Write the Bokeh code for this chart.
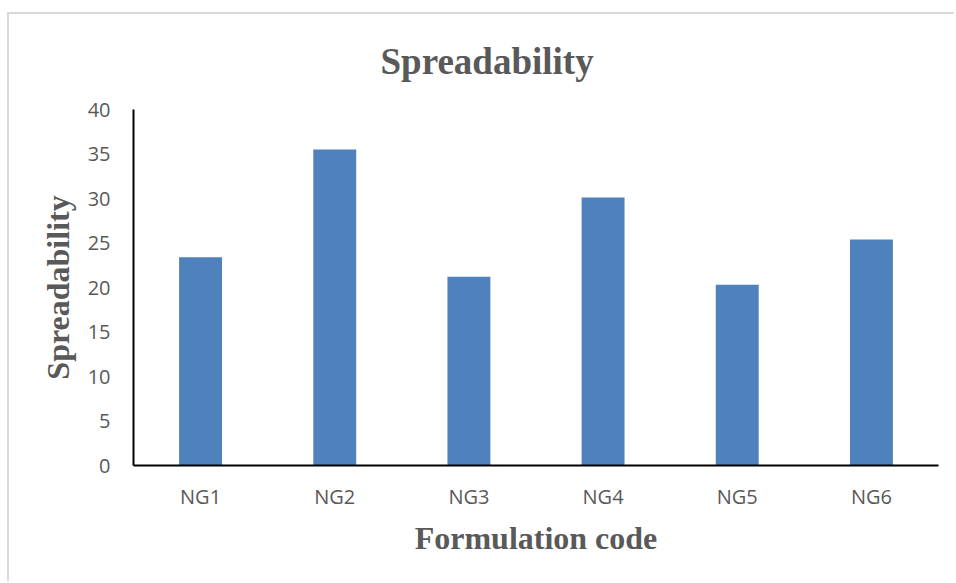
from bokeh.plotting import figure
from bokeh.models import Range1d, FactorRange, FixedTicker
from bokeh.embed import file_html
from bokeh.resources import INLINE

categories = ["NG1", "NG2", "NG3", "NG4", "NG5", "NG6"]
spreadability = [23.4, 35.5, 21.2, 30.1, 20.3, 25.4]
y_ticks = [0, 5, 10, 15, 20, 25, 30, 35, 40]

TEXT = "#595959"

p = figure(
    x_range=FactorRange(*categories, range_padding=0),
    y_range=Range1d(0, 40),
    width=947, height=569,
    output_backend="svg", toolbar_location=None,
    min_border_left=124, min_border_right=18,
    min_border_top=95, min_border_bottom=118,
)
p.styles = {"margin-left": "7px", "margin-top": "12px",
            "border-left": "2px solid #d9d9d9", "border-top": "2px solid #d9d9d9"}

p.vbar(x=categories, top=spreadability, width=0.32, color="#4F81BD", line_color=None)

p.title.text = "Spreadability"
p.title.align = "left"
p.title.offset = 247
p.title.text_font_size = "37px"
p.title.text_font = "Liberation Serif"
p.title.text_font_style = "bold"
p.title.text_color = TEXT
p.title.standoff = 51
p.title.vertical_align = "top"

p.outline_line_color = None
p.xgrid.grid_line_color = None
p.ygrid.grid_line_color = None

p.yaxis.ticker = FixedTicker(ticks=y_ticks)
for ax in (p.xaxis[0], p.yaxis[0]):
    ax.axis_line_color = "black"
    ax.axis_line_width = 2
    ax.major_tick_line_color = None
    ax.minor_tick_line_color = None
    ax.major_tick_out = 0
    ax.major_tick_in = 0
    ax.major_label_text_font = "Open Sans"
    ax.major_label_text_font_size = "20px"
    ax.major_label_text_color = TEXT
    ax.axis_label_text_font = "Liberation Serif"
    ax.axis_label_text_font_style = "bold"
    ax.axis_label_text_font_size = "32px"
    ax.axis_label_text_color = TEXT

p.yaxis.axis_label = "Spreadability"
p.yaxis.major_label_standoff = 23
p.yaxis.axis_label_standoff = 9
p.xaxis.axis_label = "Formulation code"
p.xaxis.major_label_standoff = 17
p.xaxis.axis_label_standoff = 7

open("out.html", "w").write(file_html(p, INLINE))
